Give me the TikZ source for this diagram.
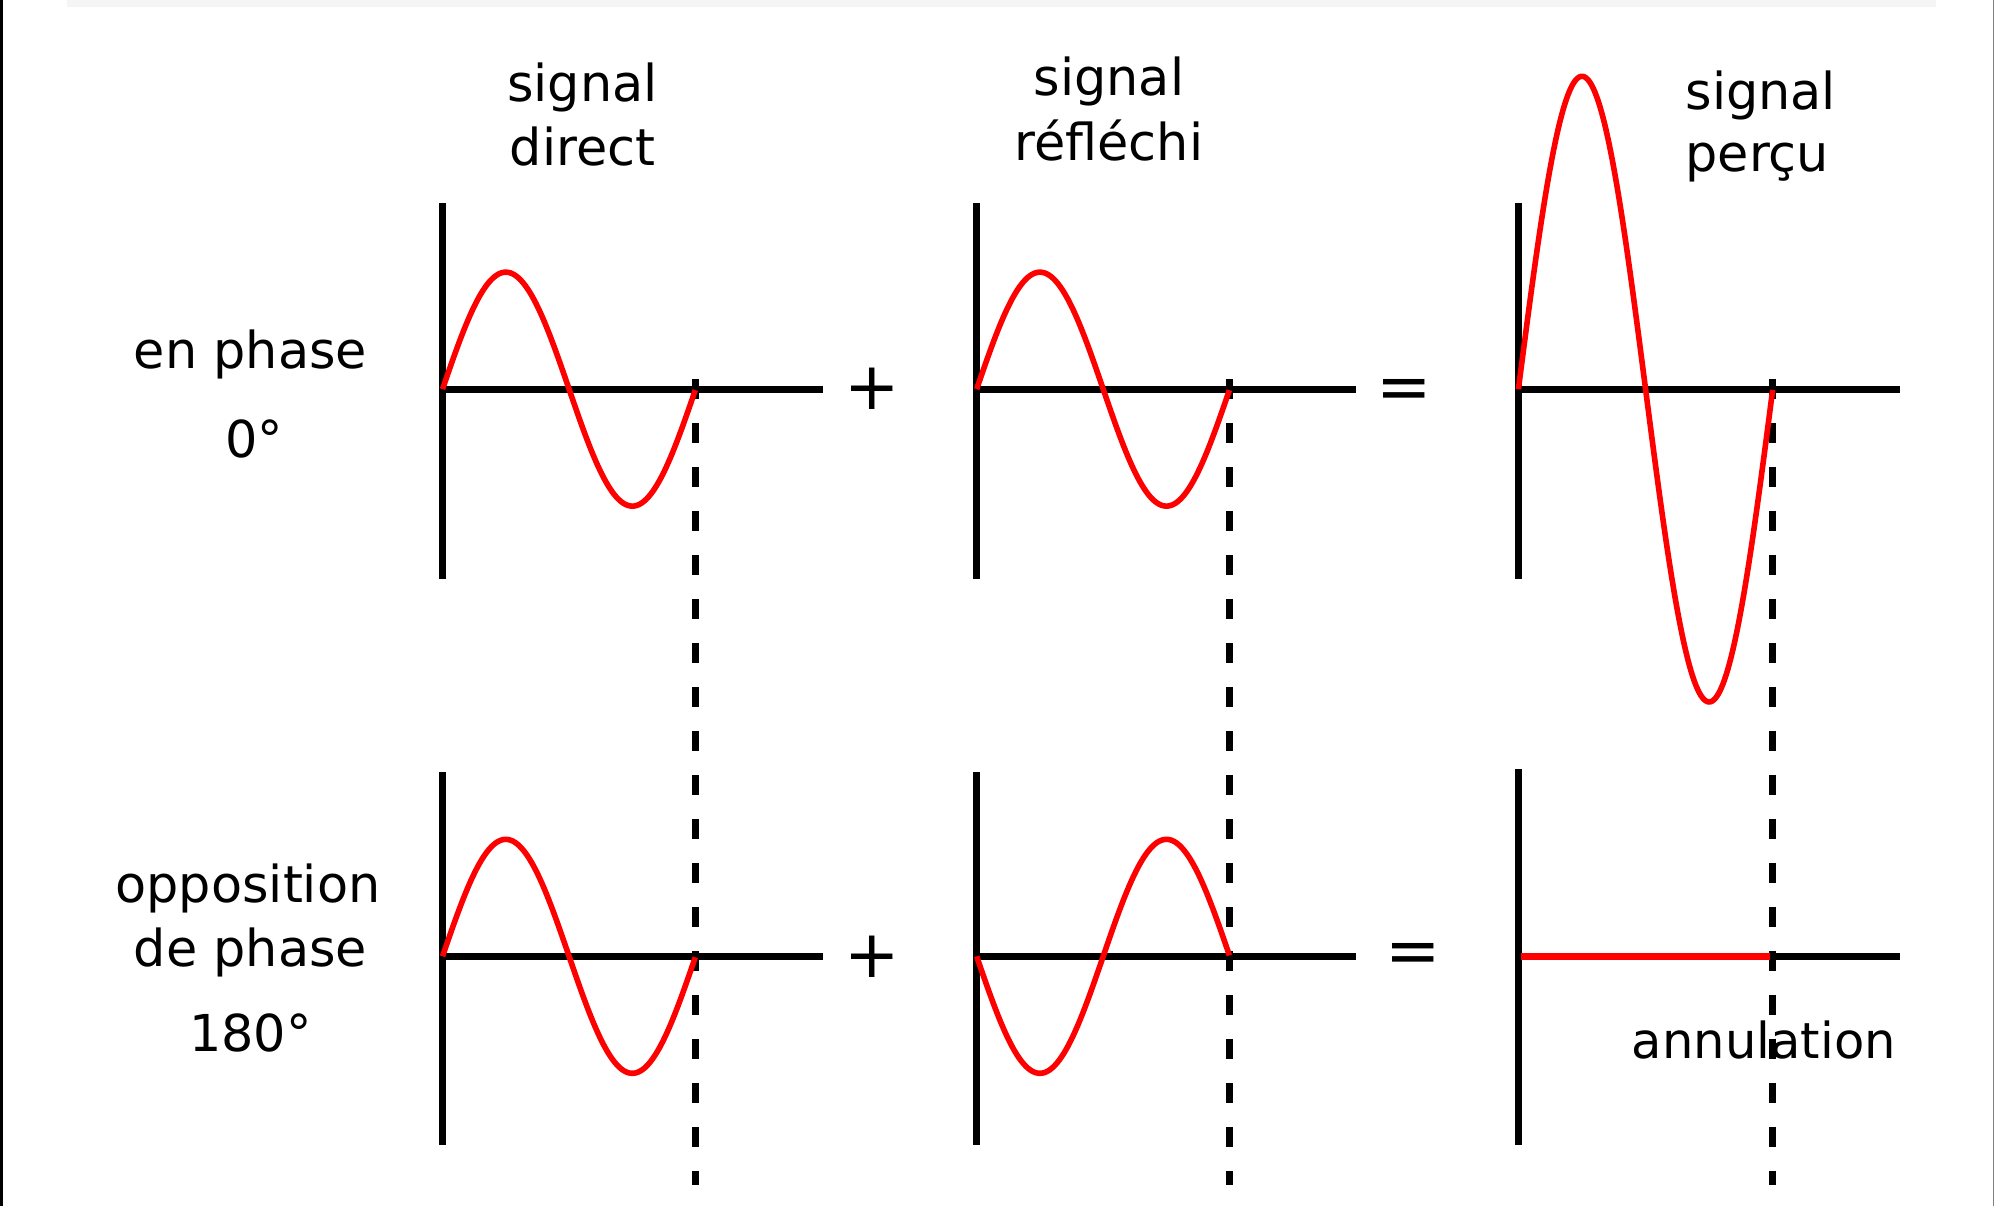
\documentclass[tikz,border=0pt]{standalone}
\usepackage{fontspec}
\setmainfont{DejaVu Sans}
\begin{document}
\begin{tikzpicture}[x=0.5pt,y=-0.5pt,
  axis/.style={line width=2.8pt,black,line cap=butt},
  wave/.style={line width=2.2pt,red},
  guide/.style={line width=2.8pt,black,dash pattern=on 8pt off 9.3pt},
  lbl/.style={font=\fontsize{20}{24}\selectfont,inner sep=0pt,anchor=base},
  opsym/.style={font=\fontsize{26}{30}\selectfont,inner sep=0pt}]
\useasboundingbox (0,0) rectangle (1568,948);
% frame traces
\fill[black] (0,0) rectangle (2.4,948);
\fill[gray!8] (53,0) rectangle (1522,5.5);
\draw[gray,line width=0.5pt] (1567.5,0) -- (1567.5,948);
% row 1 axes
\draw[axis] (348,160) -- (348,455);
\draw[axis] (348,306) -- (647,306);
\draw[axis] (768,160) -- (768,455);
\draw[axis] (768,306) -- (1066,306);
\draw[axis] (1194,160) -- (1194,455);
\draw[axis] (1194,306) -- (1494,306);
% row 2 axes
\draw[axis] (348,607) -- (348,900);
\draw[axis] (348,752) -- (647,752);
\draw[axis] (768,607) -- (768,900);
\draw[axis] (768,752) -- (1066,752);
\draw[axis] (1194,605) -- (1194,900);
\draw[axis] (1194,752) -- (1494,752);
% dashed guides
\draw[guide] (547,298) -- (547,932);
\draw[guide] (967,298) -- (967,932);
\draw[guide] (1394,298) -- (1394,932);
% waves row 1
\draw[wave] plot[domain=0:1,samples=120] ({348+\x*199},{306-92*sin(360*\x)});
\draw[wave] plot[domain=0:1,samples=120] ({768+\x*199},{306-92*sin(360*\x)});
\draw[wave] plot[domain=0:1,samples=160] ({1194+\x*200},{306-246*sin(360*\x)});
% waves row 2
\draw[wave] plot[domain=0:1,samples=120] ({348+\x*199},{752-92*sin(360*\x)});
\draw[wave] plot[domain=0:1,samples=120] ({768+\x*199},{752+92*sin(360*\x)});
\draw[red,line width=3pt] (1196,752) -- (1392,752);
% operators
\node[opsym] (plus1) at (686,306) {+};
\node[opsym] (eq1) at (1104,310) {=};
\node[opsym] (plus2) at (686,752) {+};
\node[opsym] (eq2) at (1111,754) {=};
% labels
\node[lbl] (sd1) at (458,80) {signal};
\node[lbl] (sd2) at (458,130) {direct};
\node[lbl] (sr1) at (872,75) {signal};
\node[lbl] (sr2) at (872,126) {réfléchi};
\node[lbl,anchor=base west] (sp1) at (1325,86) {signal};
\node[lbl,anchor=base west] (sp2) at (1325,135) {perçu};
\node[lbl] (ep1) at (197,290) {en phase};
\node[lbl] (ep2) at (200,360) {0°};
\node[lbl] (op1) at (195,710) {opposition};
\node[lbl] (op2) at (197,760) {de phase};
\node[lbl] (op3) at (197,827) {180°};
\node[lbl,font=\fontsize{19.5}{22}\selectfont] (ann) at (1387,832) {annulation};
\end{tikzpicture}
\end{document}
